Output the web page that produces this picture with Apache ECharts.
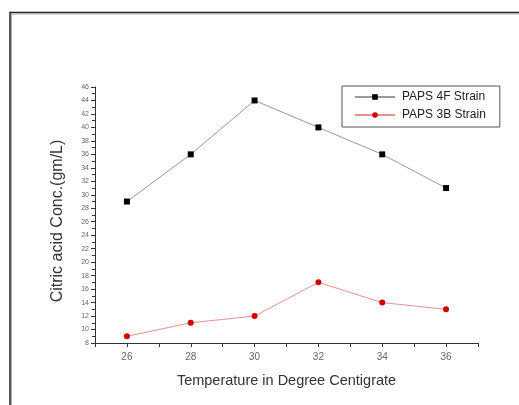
<!DOCTYPE html>
<html><head><meta charset="utf-8">
<script src="https://cdn.jsdelivr.net/npm/echarts@6/dist/echarts.min.js"></script>
<style>html,body{margin:0;padding:0;background:#fff}#c{width:519px;height:405px}</style>
</head><body><div id="c"></div>
<script>
const temperatures = [26, 28, 30, 32, 34, 36];
const strain4F = [29, 36, 44, 40, 36, 31];
const strain3B = [9, 11, 12, 17, 14, 13];
const seriesNames = ['PAPS 4F Strain', 'PAPS 3B Strain'];

const chart = echarts.init(document.getElementById('c'));
const font = 'Arial, "Liberation Sans", sans-serif';
chart.setOption({
  animation: false,
  backgroundColor: '#fff',
  graphic: [{
    type: 'polyline', silent: true,
    shape: { points: [[10, 405], [10, 12.5], [519, 12.5]] },
    style: { stroke: '#222', lineWidth: 1.5, fill: null }
  }, {
    type: 'polyline', silent: true,
    shape: { points: [[11.5, 405], [11.5, 14], [519, 14]] },
    style: { stroke: '#aaa', lineWidth: 1, fill: null }
  }],
  grid: { left: 95, top: 87, right: 41, bottom: 62 },
  legend: {
    orient: 'vertical', left: 342, top: 86, itemGap: 6,
    itemWidth: 40, itemHeight: 7,
    padding: [5, 14, 6, 12],
    borderColor: '#555', borderWidth: 1, borderRadius: 0,
    textStyle: { fontFamily: font, fontSize: 12, color: '#222', padding: [0, 0, 0, 2] },
    data: seriesNames
  },
  xAxis: {
    type: 'value', min: 25, max: 37, interval: 1,
    name: 'Temperature in Degree Centigrate', nameLocation: 'middle', nameGap: 30,
    nameTextStyle: { fontFamily: font, fontSize: 14.5, color: '#333' },
    axisLine: { lineStyle: { color: '#333', width: 1 } },
    axisTick: { inside: false, length: 4, lineStyle: { color: '#333' } },
    axisLabel: { fontFamily: font, fontSize: 10, color: '#666', margin: 9,
      formatter: v => (v % 2 === 0 && v >= 26 && v <= 36) ? String(v) : '' },
    splitLine: { show: false }
  },
  yAxis: {
    type: 'value', min: 8, max: 46, interval: 2,
    name: 'Citric acid Conc.(gm/L)', nameLocation: 'middle', nameGap: 29,
    nameTextStyle: { fontFamily: font, fontSize: 16, color: '#333', padding: [0, 12, 0, 0] },
    axisLine: { show: true, lineStyle: { color: '#333', width: 1 } },
    axisTick: { show: true, length: 4, lineStyle: { color: '#333' } },
    minorTick: { show: true, splitNumber: 2, length: 3, lineStyle: { color: '#333' } },
    axisLabel: { fontFamily: font, fontSize: 7, color: '#666', margin: 6 },
    splitLine: { show: false }
  },
  series: [{
    name: seriesNames[0], type: 'line',
    data: temperatures.map((t, i) => [t, strain4F[i]]),
    symbol: 'rect', symbolSize: 6,
    itemStyle: { color: '#000' },
    lineStyle: { color: '#999', width: 1 }
  }, {
    name: seriesNames[1], type: 'line',
    data: temperatures.map((t, i) => [t, strain3B[i]]),
    symbol: 'circle', symbolSize: 6,
    itemStyle: { color: '#d10000' },
    lineStyle: { color: '#e89090', width: 1 }
  }]
});
</script></body></html>
